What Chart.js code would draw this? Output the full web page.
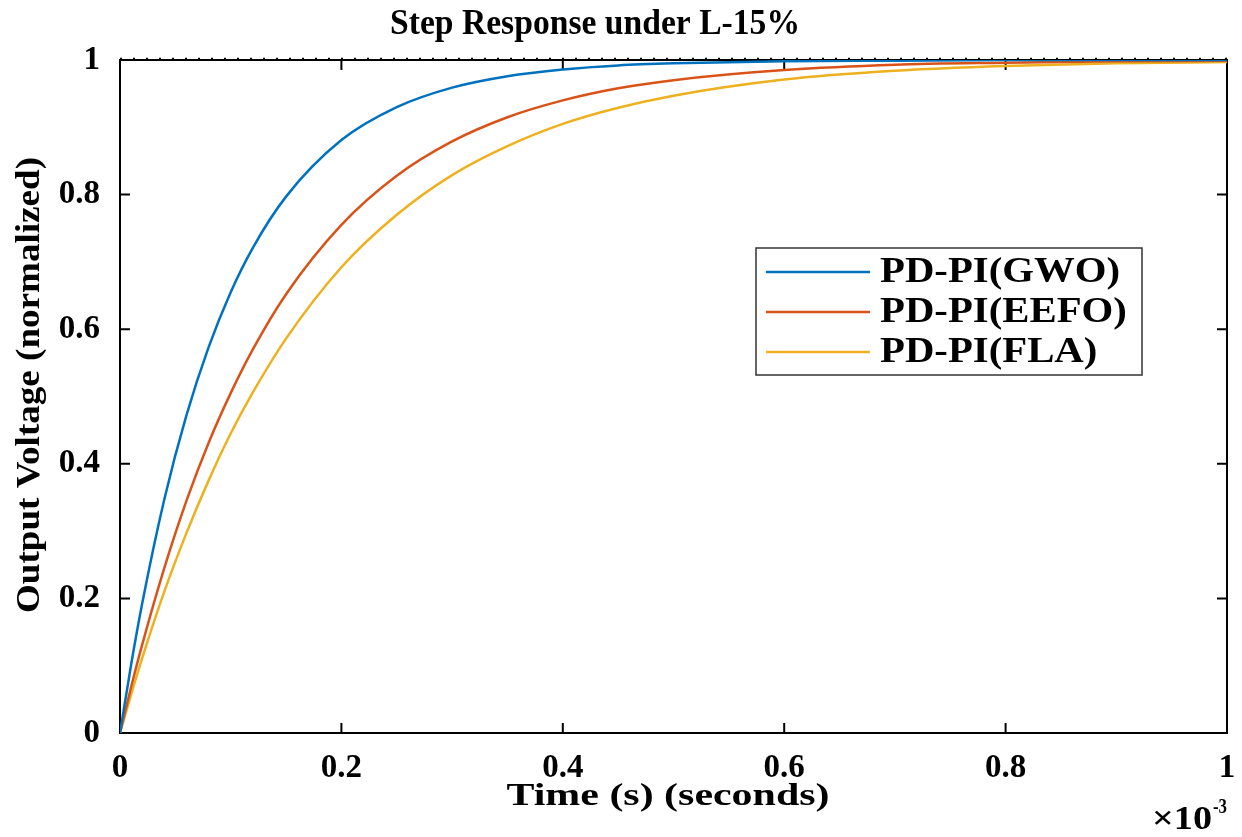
<!DOCTYPE html>
<html>
<head>
<meta charset="utf-8">
<script src="https://cdn.jsdelivr.net/npm/chart.js@4/dist/chart.umd.min.js"></script>
<style>
  html, body { margin: 0; padding: 0; background: #fff; }
  #wrap { width: 1242px; height: 837px; position: relative; }
</style>
</head>
<body>
<div id="wrap"><canvas id="chart"></canvas></div>
<script>
// time in ms (axis shows x10^-3 s)
const timeMs = [0, 0.01, 0.02, 0.04, 0.06, 0.08, 0.1, 0.12, 0.15, 0.2, 0.25, 0.3, 0.35, 0.4, 0.45, 0.5, 0.6, 0.7, 0.8, 0.9, 1.0];
const gwoValues  = [0, 0.101, 0.192, 0.347, 0.472, 0.573, 0.655, 0.721, 0.797, 0.881, 0.930, 0.959, 0.976, 0.986, 0.992, 0.995, 0.998, 0.999, 1.0, 1.0, 1.0];
const eefoValues = [0, 0.068, 0.131, 0.245, 0.345, 0.431, 0.505, 0.570, 0.652, 0.755, 0.828, 0.879, 0.915, 0.940, 0.958, 0.970, 0.985, 0.993, 0.996, 0.998, 0.999];
const flaValues  = [0, 0.057, 0.111, 0.210, 0.297, 0.375, 0.445, 0.506, 0.586, 0.692, 0.770, 0.829, 0.872, 0.905, 0.929, 0.947, 0.971, 0.984, 0.991, 0.995, 0.997];
const seriesNames = ['PD-PI(GWO)', 'PD-PI(EEFO)', 'PD-PI(FLA)'];
const seriesColors = ['#0072BD', '#D95319', '#EDB120'];
const xTicks = [0, 0.2, 0.4, 0.6, 0.8, 1];
const yTicks = [0, 0.2, 0.4, 0.6, 0.8, 1];

const SERIF = '"Liberation Serif", "DejaVu Serif", serif';

function toPoints(ys) {
  return timeMs.map((t, i) => ({ x: t, y: ys[i] }));
}

// draw text squeezed/stretched to a target width
function fitText(ctx, text, x, y, size, width, align) {
  ctx.save();
  ctx.font = 'bold ' + size + 'px ' + SERIF;
  const w = ctx.measureText(text).width;
  const sx = width ? width / w : 1;
  ctx.translate(x, y);
  ctx.scale(sx, 1);
  ctx.textAlign = align || 'center';
  ctx.fillText(text, 0, 0);
  ctx.restore();
}

const framePlugin = {
  id: 'frame',
  beforeDatasetsDraw(chart) {
    const { ctx, chartArea: a, scales } = chart;
    ctx.save();
    ctx.strokeStyle = '#000';
    ctx.lineWidth = 2;
    ctx.strokeRect(a.left, a.top, a.right - a.left, a.bottom - a.top);
    // dotted edge along the top
    ctx.lineWidth = 1.5;
    ctx.setLineDash([2, 11]);
    ctx.beginPath();
    ctx.moveTo(a.left, a.top - 1.5);
    ctx.lineTo(a.right, a.top - 1.5);
    ctx.stroke();
    ctx.setLineDash([]);
    // inward ticks
    ctx.lineWidth = 2;
    const len = 10;
    ctx.beginPath();
    xTicks.forEach(v => {
      const px = scales.x.getPixelForValue(v);
      ctx.moveTo(px, a.bottom); ctx.lineTo(px, a.bottom - len);
      ctx.moveTo(px, a.top); ctx.lineTo(px, a.top + len);
    });
    yTicks.forEach(v => {
      const py = scales.y.getPixelForValue(v);
      ctx.moveTo(a.left, py); ctx.lineTo(a.left + len, py);
      ctx.moveTo(a.right, py); ctx.lineTo(a.right - len, py);
    });
    ctx.stroke();
    ctx.restore();
  },
  afterDraw(chart) {
    const { ctx } = chart;
    ctx.save();
    ctx.fillStyle = '#000';
    ctx.textBaseline = 'middle';
    // title
    fitText(ctx, 'Step Response under L-15%', 595, 25, 36, 410);
    // x axis title
    fitText(ctx, 'Time (s) (seconds)', 668, 797, 32, 323);
    // y axis title
    ctx.save();
    ctx.translate(30, 385);
    ctx.rotate(-Math.PI / 2);
    fitText(ctx, 'Output Voltage (normalized)', 0, 0, 34, 456);
    ctx.restore();
    // exponent
    ctx.textBaseline = 'alphabetic';
    fitText(ctx, '\u00d710', 1152, 829, 34, 60, 'left');
    fitText(ctx, '-3', 1213, 813, 20, 14, 'left');

    // legend
    const box = { x: 756, y: 248, w: 386, h: 127 };
    ctx.fillStyle = '#fff';
    ctx.fillRect(box.x, box.y, box.w, box.h);
    ctx.strokeStyle = '#333';
    ctx.lineWidth = 1.5;
    ctx.strokeRect(box.x, box.y, box.w, box.h);
    ctx.font = 'bold 35px ' + SERIF;
    const sx = 240 / ctx.measureText(seriesNames[0]).width;
    chart.data.datasets.forEach((ds, i) => {
      const yy = 272 + i * 40;
      ctx.strokeStyle = ds.borderColor;
      ctx.lineWidth = 2.5;
      ctx.beginPath();
      ctx.moveTo(766, yy);
      ctx.lineTo(870, yy);
      ctx.stroke();
      ctx.save();
      ctx.fillStyle = '#000';
      ctx.textBaseline = 'middle';
      ctx.textAlign = 'left';
      ctx.translate(880, yy + 1);
      ctx.scale(sx, 1);
      ctx.fillText(ds.label, 0, 0);
      ctx.restore();
    });
    ctx.restore();
  }
};

const datasets = [gwoValues, eefoValues, flaValues].map((vals, i) => ({
  label: seriesNames[i],
  data: toPoints(vals),
  borderColor: seriesColors[i],
  backgroundColor: seriesColors[i],
  borderWidth: 2.5,
  pointRadius: 0,
  cubicInterpolationMode: 'monotone',
  fill: false
}));

new Chart(document.getElementById('chart'), {
  type: 'line',
  data: { datasets },
  options: {
    responsive: true,
    maintainAspectRatio: false,
    animation: false,
    layout: { padding: { top: 60, right: 15, left: 0, bottom: 0 } },
    plugins: {
      legend: { display: false },
      title: { display: false },
      tooltip: { enabled: false }
    },
    scales: {
      x: {
        type: 'linear',
        min: 0,
        max: 1,
        afterBuildTicks: s => { s.ticks = xTicks.map(v => ({ value: v })); },
        afterFit: s => { s.height = 104; s.paddingLeft = 0; s.paddingRight = 0; },
        grid: { display: false, drawTicks: false },
        border: { display: false },
        ticks: {
          color: '#000',
          padding: 16,
          maxRotation: 0,
          font: { family: SERIF, size: 33, weight: 'bold' },
          callback: v => String(Math.round(v * 10) / 10)
        }
      },
      y: {
        min: 0,
        max: 1,
        afterBuildTicks: s => { s.ticks = yTicks.map(v => ({ value: v })); },
        afterFit: s => { s.width = 120; s.paddingTop = 0; s.paddingBottom = 0; },
        grid: { display: false, drawTicks: false },
        border: { display: false },
        ticks: {
          color: '#000',
          padding: 20,
          font: { family: SERIF, size: 33, weight: 'bold' },
          callback: v => String(Math.round(v * 10) / 10)
        }
      }
    }
  },
  plugins: [framePlugin]
});
</script>
</body>
</html>
